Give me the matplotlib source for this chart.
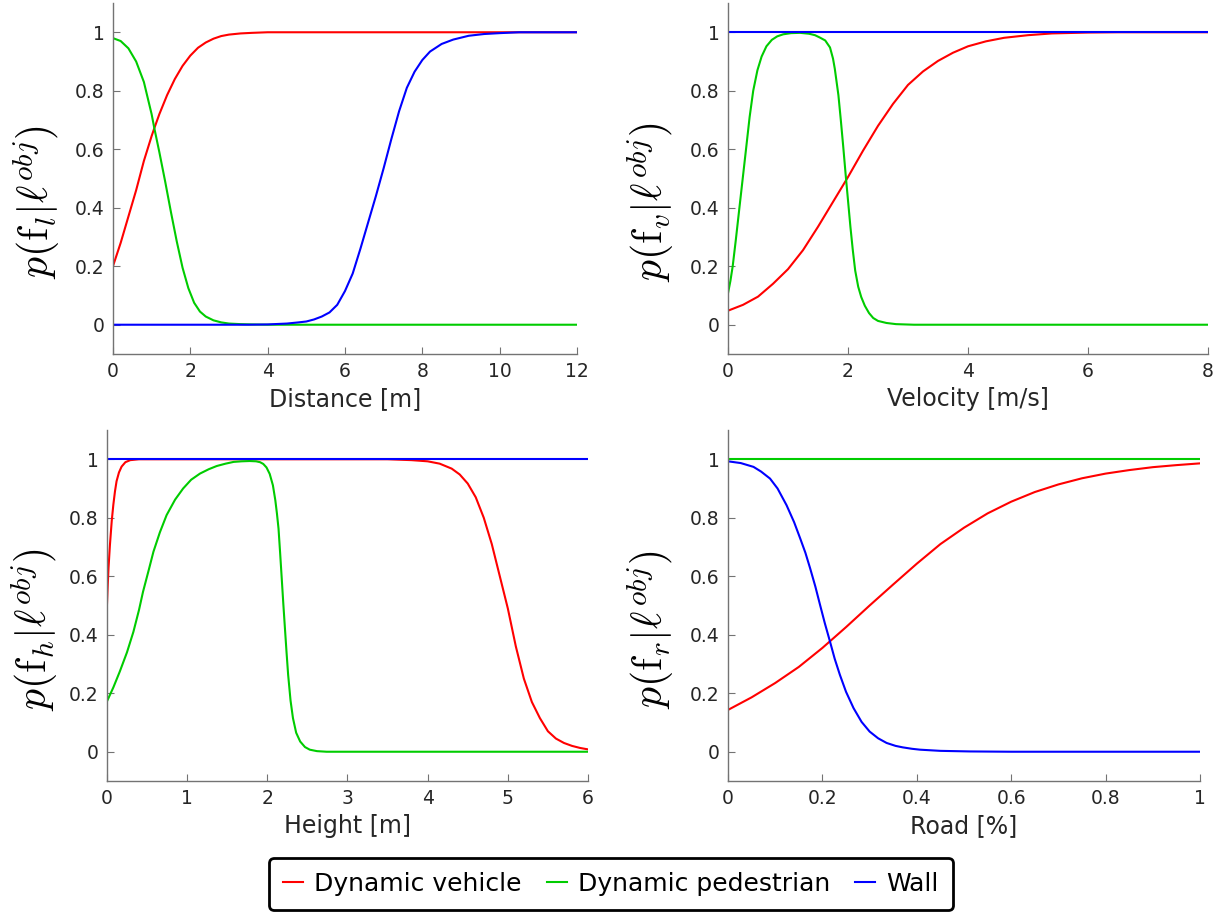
import matplotlib
matplotlib.use('Agg')
import matplotlib.pyplot as plt
from matplotlib.ticker import FormatStrFormatter

plt.rcParams['mathtext.fontset'] = 'cm'

# colori delle tre classi
RED = '#ff0000'
GREEN = '#00cc00'
BLUE = '#0000ff'
labels = ['Dynamic vehicle', 'Dynamic pedestrian', 'Wall']

# --- Distance [m]
dist_red_x = [0, 0.2, 0.4, 0.6, 0.8, 1.0, 1.07, 1.2, 1.4, 1.6, 1.8, 2.0, 2.2, 2.4, 2.6, 2.8, 3.0, 3.3, 3.6, 4.0, 12]
dist_red_y = [0.20, 0.28, 0.37, 0.46, 0.56, 0.645, 0.672, 0.72, 0.785, 0.84, 0.885, 0.92, 0.947, 0.965, 0.978, 0.987, 0.992, 0.996, 0.998, 1.0, 1.0]
dist_green_x = [0, 0.2, 0.4, 0.6, 0.8, 1.0, 1.07, 1.2, 1.35, 1.5, 1.65, 1.8, 1.95, 2.1, 2.25, 2.4, 2.6, 2.8, 3.0, 3.3, 3.6, 4.0, 12]
dist_green_y = [0.98, 0.97, 0.945, 0.90, 0.83, 0.72, 0.672, 0.59, 0.49, 0.385, 0.285, 0.195, 0.125, 0.075, 0.045, 0.028, 0.015, 0.008, 0.004, 0.002, 0.001, 0, 0]
dist_blue_x = [0, 3.5, 4.0, 4.5, 4.8, 5.0, 5.2, 5.4, 5.6, 5.8, 6.0, 6.2, 6.4, 6.6, 6.8, 7.0, 7.2, 7.4, 7.6, 7.8, 8.0, 8.2, 8.5, 8.8, 9.2, 9.6, 10.0, 10.5, 12]
dist_blue_y = [0, 0, 0.001, 0.004, 0.008, 0.011, 0.018, 0.028, 0.042, 0.068, 0.115, 0.175, 0.26, 0.35, 0.44, 0.535, 0.635, 0.73, 0.81, 0.865, 0.905, 0.934, 0.96, 0.975, 0.988, 0.994, 0.997, 1.0, 1.0]

# --- Velocity [m/s]
vel_red_x = [0, 0.25, 0.5, 0.75, 1.0, 1.25, 1.5, 1.75, 2.0, 2.25, 2.5, 2.75, 3.0, 3.25, 3.5, 3.75, 4.0, 4.3, 4.6, 5.0, 5.4, 6.0, 6.5, 8]
vel_red_y = [0.048, 0.068, 0.096, 0.14, 0.19, 0.255, 0.335, 0.42, 0.505, 0.595, 0.68, 0.755, 0.82, 0.866, 0.902, 0.93, 0.952, 0.969, 0.981, 0.99, 0.996, 0.999, 1.0, 1.0]
vel_green_x = [0, 0.04, 0.078, 0.13, 0.19, 0.245, 0.30, 0.36, 0.42, 0.49, 0.56, 0.64, 0.73, 0.82, 0.92, 1.05, 1.2, 1.35, 1.45, 1.53, 1.62, 1.70, 1.75, 1.78, 1.84, 1.88, 1.92, 1.96, 2.0, 2.04, 2.08, 2.12, 2.17, 2.22, 2.28, 2.35, 2.42, 2.5, 2.64, 2.8, 3.1, 8]
vel_green_y = [0.108, 0.15, 0.2, 0.29, 0.4, 0.5, 0.6, 0.71, 0.8, 0.87, 0.917, 0.952, 0.974, 0.986, 0.993, 0.997, 0.998, 0.995, 0.99, 0.982, 0.972, 0.948, 0.91, 0.875, 0.785, 0.70, 0.61, 0.515, 0.425, 0.335, 0.255, 0.185, 0.13, 0.095, 0.065, 0.04, 0.023, 0.013, 0.006, 0.002, 0, 0]
vel_blue_x = [0, 8]
vel_blue_y = [1, 1]

# --- Height [m]
h_red_x = [0, 0.01, 0.02, 0.037, 0.06, 0.08, 0.1, 0.12, 0.15, 0.183, 0.23, 0.29, 0.4, 3.5, 3.8, 4.0, 4.15, 4.3, 4.4, 4.5, 4.6, 4.7, 4.8, 4.9, 5.0, 5.1, 5.2, 5.3, 5.4, 5.5, 5.6, 5.7, 5.8, 5.9, 6.0]
h_red_y = [0.50, 0.57, 0.63, 0.706, 0.79, 0.845, 0.89, 0.925, 0.955, 0.975, 0.99, 0.997, 1.0, 1.0, 0.997, 0.993, 0.985, 0.968, 0.948, 0.917, 0.87, 0.80, 0.71, 0.60, 0.49, 0.36, 0.25, 0.17, 0.115, 0.07, 0.045, 0.03, 0.02, 0.013, 0.008]
h_green_x = [0, 0.08, 0.16, 0.25, 0.33, 0.4, 0.45, 0.52, 0.58, 0.66, 0.744, 0.85, 0.95, 1.05, 1.16, 1.27, 1.37, 1.48, 1.58, 1.68, 1.78, 1.86, 1.91, 1.95, 1.99, 2.03, 2.07, 2.1, 2.12, 2.14, 2.16, 2.18, 2.2, 2.22, 2.24, 2.26, 2.29, 2.32, 2.36, 2.41, 2.47, 2.53, 2.62, 2.74, 6]
h_green_y = [0.172, 0.22, 0.274, 0.34, 0.41, 0.485, 0.547, 0.62, 0.684, 0.75, 0.809, 0.862, 0.90, 0.93, 0.951, 0.966, 0.977, 0.985, 0.991, 0.993, 0.994, 0.993, 0.99, 0.984, 0.972, 0.95, 0.911, 0.86, 0.815, 0.763, 0.68, 0.593, 0.505, 0.422, 0.34, 0.263, 0.175, 0.115, 0.065, 0.035, 0.016, 0.007, 0.002, 0, 0]
h_blue_x = [0, 6]
h_blue_y = [1, 1]

# --- Road [%]
road_red_x = [0, 0.05, 0.1, 0.15, 0.2, 0.25, 0.3, 0.35, 0.4, 0.45, 0.5, 0.55, 0.6, 0.65, 0.7, 0.75, 0.8, 0.85, 0.9, 0.95, 1.0]
road_red_y = [0.143, 0.186, 0.235, 0.29, 0.355, 0.426, 0.50, 0.572, 0.643, 0.71, 0.766, 0.815, 0.855, 0.888, 0.914, 0.935, 0.951, 0.963, 0.973, 0.98, 0.986]
road_green_x = [0, 1]
road_green_y = [1, 1]
road_blue_x = [0, 0.027, 0.054, 0.07, 0.089, 0.105, 0.124, 0.14, 0.153, 0.164, 0.174, 0.185, 0.195, 0.205, 0.216, 0.226, 0.237, 0.25, 0.266, 0.283, 0.30, 0.318, 0.336, 0.355, 0.37, 0.39, 0.407, 0.45, 0.513, 0.6, 1.0]
road_blue_y = [0.993, 0.987, 0.974, 0.958, 0.934, 0.9, 0.843, 0.785, 0.729, 0.68, 0.627, 0.565, 0.502, 0.44, 0.377, 0.318, 0.263, 0.205, 0.149, 0.102, 0.069, 0.046, 0.030, 0.02, 0.015, 0.01, 0.007, 0.003, 0.001, 0, 0]

# rect, xlabel, pedice, xlim, xticks, posizione ylabel (frazione assi), curve
panels = [
    ([0.0922, 0.6123, 0.3788, 0.3844], 'Distance [m]', 'l', (0, 12), [0, 2, 4, 6, 8, 10, 12], (-0.11, 0.432),
     [(dist_red_x, dist_red_y), (dist_green_x, dist_green_y), (dist_blue_x, dist_blue_y)]),
    ([0.5943, 0.6123, 0.3918, 0.3844], 'Velocity [m/s]', 'v', (0, 8), [0, 2, 4, 6, 8], (-0.108, 0.432),
     [(vel_red_x, vel_red_y), (vel_green_x, vel_green_y), (vel_blue_x, vel_blue_y)]),
    ([0.0873, 0.1446, 0.3927, 0.3844], 'Height [m]', 'h', (0, 6), [0, 1, 2, 3, 4, 5, 6], (-0.098, 0.43),
     [(h_red_x, h_red_y), (h_green_x, h_green_y), (h_blue_x, h_blue_y)]),
    ([0.5943, 0.1446, 0.3853, 0.3844], 'Road [%]', 'r', (0, 1), [0, 0.2, 0.4, 0.6, 0.8, 1], (-0.11, 0.43),
     [(road_red_x, road_red_y), (road_green_x, road_green_y), (road_blue_x, road_blue_y)]),
]

fig = plt.figure(figsize=(12.25, 9.13), dpi=100)
handles = []
for rect, xlabel, sub, xlim, xticks, lab_pos, curves in panels:
    ax = fig.add_axes(rect)
    hs = []
    for (x, y), c in zip(curves, [RED, GREEN, BLUE]):
        h, = ax.plot(x, y, color=c, lw=1.5)
        hs.append(h)
    handles = hs
    ax.set_xlim(xlim)
    ax.set_ylim(-0.1, 1.1)
    ax.set_xticks(xticks)
    ax.set_yticks([0, 0.2, 0.4, 0.6, 0.8, 1])
    ax.xaxis.set_major_formatter(FormatStrFormatter('%g'))
    ax.yaxis.set_major_formatter(FormatStrFormatter('%g'))
    for s in ['top', 'right']:
        ax.spines[s].set_visible(False)
    for s in ['left', 'bottom']:
        ax.spines[s].set_color('0.45')
        ax.spines[s].set_linewidth(1.0)
    ax.tick_params(direction='in', length=5, color='0.45', labelsize=13.5,
                   labelcolor='#262626', pad=6)
    ax.set_xlabel(xlabel, fontsize=17, color='#262626', labelpad=4)
    ax.set_ylabel(r'$p(\mathrm{f}_%s|\ell^{obj})$' % sub, fontsize=30)
    ax.yaxis.set_label_coords(*lab_pos)

leg = fig.legend(handles, labels, loc='center', bbox_to_anchor=(0.4988, 0.0318), ncol=3,
                 fontsize=18, frameon=True, fancybox=True, edgecolor='black', framealpha=1,
                 handlelength=0.8, handletextpad=0.45, columnspacing=1.0, borderpad=0.55)
leg.get_frame().set_linewidth(2)

plt.savefig('out.png', dpi=100)
